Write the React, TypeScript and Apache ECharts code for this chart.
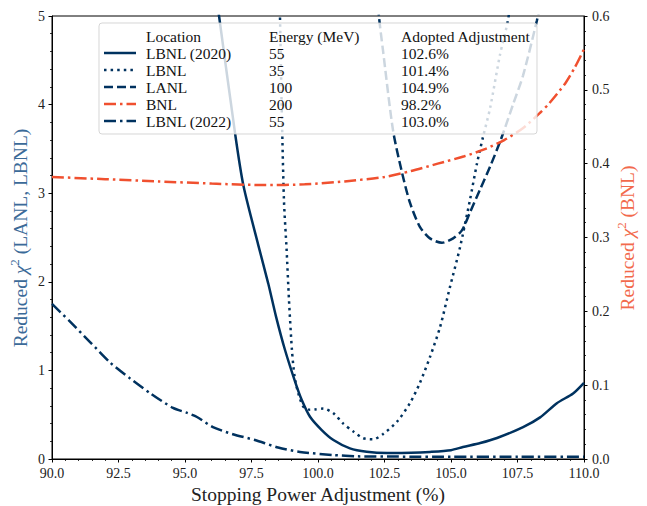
import React, { useEffect, useRef } from "react";
import * as echarts from "echarts";

const NAVY = "#00325f";
const RED = "#f0502f";
const LEFT_TITLE = "#3b6a98";
const RIGHT_TITLE = "#f26a4c";
const FONT = "Liberation Serif";

// Stopping power adjustment (%) vs reduced chi^2
const lbnl2020: number[][] = [
  [96.0, 5.6], [96.28, 5.0], [96.88, 3.68], [97.2, 3.08], [97.75, 2.42], [98.13, 1.98],
  [98.42, 1.61], [98.76, 1.23], [99.16, 0.854], [99.39, 0.666], [99.7, 0.477], [100.14, 0.327],
  [100.58, 0.214], [101.2, 0.12], [101.83, 0.082], [102.6, 0.068], [103.5, 0.07], [104.21, 0.08],
  [105.0, 0.1], [105.45, 0.135], [106.1, 0.18], [106.73, 0.237], [107.71, 0.36], [108.35, 0.47],
  [108.98, 0.63], [109.59, 0.74], [110.0, 0.86],
];

const lbnl35: number[][] = [
  [98.5, 5.8], [98.57, 5.0], [98.63, 4.05], [98.72, 2.92], [98.82, 2.36], [98.91, 1.79],
  [99.02, 1.23], [99.12, 0.93], [99.26, 0.74], [99.45, 0.59], [99.7, 0.555], [99.89, 0.56],
  [100.2, 0.57], [100.58, 0.516], [100.95, 0.4], [101.33, 0.31], [101.7, 0.234], [102.08, 0.222],
  [102.44, 0.28], [102.97, 0.42], [103.46, 0.632], [103.83, 0.858], [104.21, 1.151], [104.59, 1.49],
  [104.96, 1.94], [105.34, 2.39], [105.71, 2.92], [105.98, 3.34], [106.2, 3.63], [106.47, 3.96],
  [106.84, 4.56], [107.14, 4.95], [107.35, 5.4],
];

const lanl100: number[][] = [
  [102.2, 5.4], [102.29, 5.0], [102.44, 4.62], [102.82, 3.71], [103.16, 3.23], [103.46, 2.89],
  [103.83, 2.62], [104.21, 2.49], [104.66, 2.44], [105.08, 2.49], [105.41, 2.58], [105.71, 2.78],
  [106.09, 3.04], [106.47, 3.3], [106.88, 3.61], [107.33, 4.0], [107.71, 4.33], [108.23, 4.95],
  [108.4, 5.2],
];

const bnl200: number[][] = [
  [90, 0.382], [92, 0.379], [94, 0.376], [96, 0.373], [98, 0.371], [99.5, 0.372], [101, 0.376],
  [102.5, 0.382], [103.5, 0.39], [104.5, 0.4], [105.5, 0.41], [106.3, 0.42], [107, 0.432],
  [107.7, 0.448], [108.35, 0.469], [108.7, 0.482], [109.3, 0.509], [109.65, 0.53], [110, 0.555],
];

const lbnl2022: number[][] = [
  [90, 1.75], [90.68, 1.55], [91.43, 1.32], [92.18, 1.09], [92.93, 0.91], [93.68, 0.745],
  [94.55, 0.576], [95.08, 0.52], [95.45, 0.474], [96.05, 0.36], [96.8, 0.28], [97.63, 0.214],
  [98.5, 0.13], [99.32, 0.08], [100.56, 0.045], [101.5, 0.03], [103, 0.027], [105, 0.025],
  [107.5, 0.025], [110, 0.024],
];

const legendLocations = ["LBNL (2020)", "LBNL", "LANL", "BNL", "LBNL (2022)"];
const legendEnergies = ["55", "35", "100", "200", "55"];
const legendAdjustments = ["102.6%", "101.4%", "104.9%", "98.2%", "103.0%"];
const legendHeaders = ["Location", "Energy (MeV)", "Adopted Adjustment"];

const LW = 2.5;
const DOTTED = [2.5, 4.1];
const DASHED = [9, 4];
const DASHDOT = [12, 4, 2.5, 4];
const styles = [
  { color: NAVY, dash: null as number[] | null },
  { color: NAVY, dash: DOTTED },
  { color: NAVY, dash: DASHED },
  { color: RED, dash: DASHDOT },
  { color: NAVY, dash: DASHDOT },
];

export default function App() {
  const ref = useRef<HTMLDivElement>(null);
  useEffect(() => {
    if (!ref.current) return;
    const chart = echarts.init(ref.current, undefined, { renderer: "svg" });

    const axisBase = {
      axisLine: { show: true, onZero: false, lineStyle: { color: "#000", width: 1 } },
      axisTick: { show: true, inside: false, length: 3.5, lineStyle: { color: "#000", width: 1 } },
      minorTick: { show: true, splitNumber: 5, length: 2, lineStyle: { color: "#000", width: 0.8 } },
      splitLine: { show: false },
      minorSplitLine: { show: false },
    };
    const labelBase = { color: "#222", fontFamily: FONT, fontSize: 14 };

    const mkSeries = (name: string, data: number[][], idx: number, yAxisIndex = 0) => {
      const s = styles[idx];
      return {
        name,
        type: "line",
        data,
        yAxisIndex,
        symbol: "none",
        smooth: 0.25,
        clip: true,
        z: 2 + idx,
        lineStyle: {
          color: s.color,
          width: LW,
          type: s.dash ? s.dash : "solid",
          cap: "butt",
        },
      };
    };

    const legendX0 = 99, legendY0 = 23, legendW = 438, legendH = 111;
    const rowY = (i: number) => 36 + i * 17;
    const colX = [146, 269, 401];
    const legendEls: any[] = [
      {
        type: "rect",
        z: 50,
        shape: { x: legendX0, y: legendY0, width: legendW, height: legendH, r: 3 },
        style: { fill: "rgba(255,255,255,0.8)", stroke: "rgba(204,204,204,0.8)", lineWidth: 1 },
      },
    ];
    legendHeaders.forEach((h, c) => {
      legendEls.push({
        type: "text", z: 51, x: colX[c], y: rowY(0),
        style: { text: h, fill: "#111", font: `15.5px ${FONT}`, align: "left", verticalAlign: "middle" },
      });
    });
    legendLocations.forEach((loc, i) => {
      const y = rowY(i + 1);
      const s = styles[i];
      legendEls.push({
        type: "line", z: 51,
        shape: { x1: 104, y1: y, x2: 136, y2: y },
        style: { stroke: s.color, lineWidth: LW, lineDash: s.dash || undefined, lineCap: "butt" },
      });
      [loc, legendEnergies[i], legendAdjustments[i]].forEach((t, c) => {
        legendEls.push({
          type: "text", z: 51, x: colX[c], y,
          style: { text: t, fill: "#111", font: `15.5px ${FONT}`, align: "left", verticalAlign: "middle" },
        });
      });
    });

    const titleRich = (color: string) => ({
      i: { fontStyle: "italic", fontSize: 19.5, fontFamily: FONT, fill: color, lineHeight: 24 },
      s: { fontSize: 13, fontFamily: FONT, fill: color, verticalAlign: "top", lineHeight: 13 },
      n: { fontSize: 19.5, fontFamily: FONT, fill: color, lineHeight: 24 },
    });

    const titles: any[] = [
      {
        type: "text", z: 60, x: 20, y: 238, rotation: Math.PI / 2,
        style: {
          text: "{n|Reduced }{i|χ}{s|2}{n| (LANL, LBNL)}",
          rich: titleRich(LEFT_TITLE), align: "center", verticalAlign: "middle",
          fontFamily: FONT, fontSize: 19.5, fill: LEFT_TITLE,
        },
      },
      {
        type: "text", z: 60, x: 627, y: 238, rotation: Math.PI / 2,
        style: {
          text: "{n|Reduced }{i|χ}{s|2}{n| (BNL)}",
          rich: titleRich(RIGHT_TITLE), align: "center", verticalAlign: "middle",
          fontFamily: FONT, fontSize: 19.5, fill: RIGHT_TITLE,
        },
      },
      {
        type: "text", z: 60, x: 318, y: 494,
        style: {
          text: "Stopping Power Adjustment (%)", fill: "#222",
          font: `19.5px ${FONT}`, align: "center", verticalAlign: "middle",
        },
      },
    ];

    chart.setOption({
      animation: false,
      backgroundColor: "#fff",
      grid: { left: 52, right: 63, top: 16, bottom: 47, show: true, borderColor: "#000", borderWidth: 1, backgroundColor: "transparent" },
      xAxis: {
        type: "value", min: 90, max: 110, interval: 2.5,
        ...axisBase,
        axisLabel: { ...labelBase, margin: 7, formatter: (v: number) => v.toFixed(1) },
      },
      yAxis: [
        {
          type: "value", min: 0, max: 5, interval: 1, position: "left",
          ...axisBase,
          axisLabel: { ...labelBase, margin: 7, formatter: (v: number) => String(Math.round(v)) },
        },
        {
          type: "value", min: 0, max: 0.6, interval: 0.1, position: "right",
          ...axisBase,
          axisLabel: { ...labelBase, margin: 8, formatter: (v: number) => v.toFixed(1) },
        },
      ],
      series: [
        mkSeries("LBNL (2020)", lbnl2020, 0),
        mkSeries("LBNL", lbnl35, 1),
        mkSeries("LANL", lanl100, 2),
        mkSeries("BNL", bnl200, 3, 1),
        mkSeries("LBNL (2022)", lbnl2022, 4),
      ],
      graphic: [...legendEls, ...titles],
    });

    return () => chart.dispose();
  }, []);

  return <div ref={ref} style={{ position: "absolute", left: 0, top: 0, width: 647, height: 506 }} />;
}
